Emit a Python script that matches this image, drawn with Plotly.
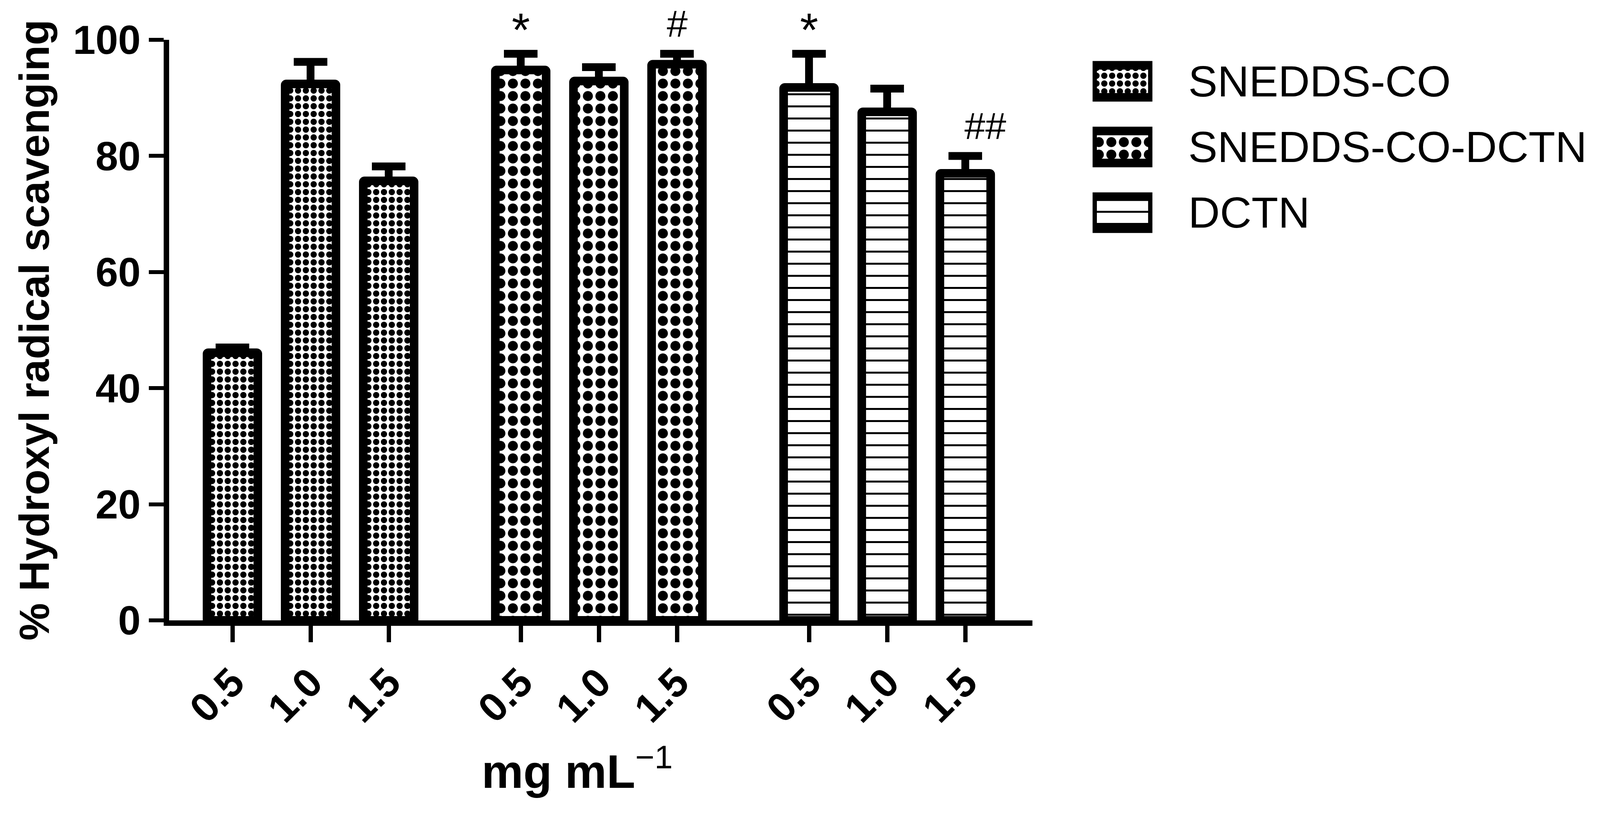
import plotly.graph_objects as go

# concentrations (mg/mL) shown under every group
CONCENTRATIONS = ['0.5', '1.0', '1.5']
SERIES = ['SNEDDS-CO', 'SNEDDS-CO-DCTN', 'DCTN']

# % hydroxyl radical scavenging, mean and +SD
SNEDDS_CO = [46.1, 92.4, 75.7]
SNEDDS_CO_ERR = [0.9, 3.8, 2.5]
SNEDDS_CO_DCTN = [94.8, 92.9, 95.8]
SNEDDS_CO_DCTN_ERR = [2.8, 2.4, 1.8]
DCTN = [91.8, 87.6, 77.0]
DCTN_ERR = [5.8, 4.0, 3.0]

# significance marks: (series, concentration index, label)
MARKS = [
    ('SNEDDS-CO-DCTN', 0, '*'),
    ('SNEDDS-CO-DCTN', 2, '#'),
    ('DCTN', 0, '*'),
    ('DCTN', 2, '##'),
]

values = {'SNEDDS-CO': SNEDDS_CO, 'SNEDDS-CO-DCTN': SNEDDS_CO_DCTN, 'DCTN': DCTN}
errors = {'SNEDDS-CO': SNEDDS_CO_ERR, 'SNEDDS-CO-DCTN': SNEDDS_CO_DCTN_ERR, 'DCTN': DCTN_ERR}
patterns = {
    'SNEDDS-CO': dict(shape='.', size=20, solidity=0.5),
    'SNEDDS-CO-DCTN': dict(shape='.', size=32, solidity=0.5),
    'DCTN': dict(shape='-', size=31, solidity=0.16),
}

GROUP_STEP = 3.69   # distance between first bars of neighbouring groups
BAR_W = 0.65
FONT = 'Arial, Liberation Sans, sans-serif'
# the asterisk glyph sits high in its line box, so it needs less lift than '#'
MARK_STYLE = {'*': dict(size=120, lift=62), '#': dict(size=96, lift=77)}


def xpos(gi):
    return [gi * GROUP_STEP + i for i in range(len(CONCENTRATIONS))]


fig = go.Figure()
tickvals, ticktext = [], []
for gi, name in enumerate(SERIES):
    pat = dict(fgcolor='black', bgcolor='white', fillmode='replace', **patterns[name])
    fig.add_trace(go.Bar(
        x=xpos(gi), y=values[name], width=BAR_W, name=name,
        marker=dict(color='white', line=dict(color='black', width=22), pattern=pat, cornerradius=3),
        error_y=dict(type='data', array=errors[name], arrayminus=[0] * 3, symmetric=False,
                     color='black', thickness=20, width=43),
        cliponaxis=False, showlegend=False,
    ))
    tickvals += xpos(gi)
    ticktext += CONCENTRATIONS
    # swatch for the hand made legend
    fig.add_trace(go.Bar(
        x=[1], y=[name], base=0, orientation='h', width=0.487, xaxis='x2', yaxis='y2',
        marker=dict(color='white', line=dict(color='black', width=22), pattern=pat),
        cliponaxis=False, showlegend=False, hoverinfo='skip',
    ))

annotations = []
for name, ci, label in MARKS:
    gi = SERIES.index(name)
    top = values[name][ci] + errors[name][ci]
    st = MARK_STYLE[label[0]]
    annotations.append(dict(
        x=xpos(gi)[ci], y=top, xref='x', yref='y', text=label, showarrow=False,
        xanchor='left' if len(label) > 1 else 'center', yanchor='middle',
        xshift=-4 if len(label) > 1 else 0, yshift=st['lift'],
        font=dict(family=FONT, size=st['size'], color='black'),
    ))

# legend labels
for name in SERIES:
    annotations.append(dict(
        x=0.7048, y=name, xref='paper', yref='y2', text=name, showarrow=False,
        xanchor='left', yanchor='middle',
        font=dict(family=FONT, size=112, color='black'),
    ))

annotations.append(dict(
    text='<b>% Hydroxyl radical scavenging</b>', textangle=-90, showarrow=False,
    xref='paper', yref='paper', x=-0.0935, y=0.5, xanchor='center', yanchor='middle',
    font=dict(family=FONT, size=108, color='black'),
))
annotations.append(dict(
    text='<b>mg mL</b><sup>−1</sup>', showarrow=False,
    xref='paper', yref='paper', x=0.2825, y=-0.255, xanchor='center', yanchor='middle',
    font=dict(family=FONT, size=120, color='black'),
))

# the page body adds an 8px margin, so the figure margins are pulled in by 8px
fig.update_layout(
    width=4152, height=2085,
    margin=dict(l=425, r=28, t=94, b=504),
    plot_bgcolor='white', paper_bgcolor='white',
    font=dict(family=FONT, color='black'),
    showlegend=False,
    annotations=annotations,
    xaxis=dict(
        domain=[0, 0.5975], range=[-0.81, 10.24],
        tickvals=tickvals, ticktext=ticktext, tickangle=-45,
        tickfont=dict(family=FONT, size=104, weight='bold'),
        ticks='outside', ticklen=42, tickwidth=11, tickcolor='black',
        showline=True, linewidth=14, linecolor='black',
        showgrid=False, zeroline=False,
    ),
    yaxis=dict(
        range=[0, 100], tickvals=[0, 20, 40, 60, 80, 100],
        tickfont=dict(family=FONT, size=104, weight='bold'),
        ticks='outside', ticklen=38, tickwidth=10, tickcolor='black',
        showline=True, linewidth=14, linecolor='black',
        showgrid=False, zeroline=False,
    ),
    xaxis2=dict(domain=[0.6391, 0.6805], range=[0, 1], anchor='y2', visible=False),
    yaxis2=dict(
        domain=[0.6456, 0.9852], anchor='x2', type='category',
        categoryorder='array', categoryarray=SERIES, range=[2.5, -0.5],
        showticklabels=False, ticks='', showline=False, showgrid=False, zeroline=False,
    ),
)

fig.write_html('out.html', config=dict(displayModeBar=False))
